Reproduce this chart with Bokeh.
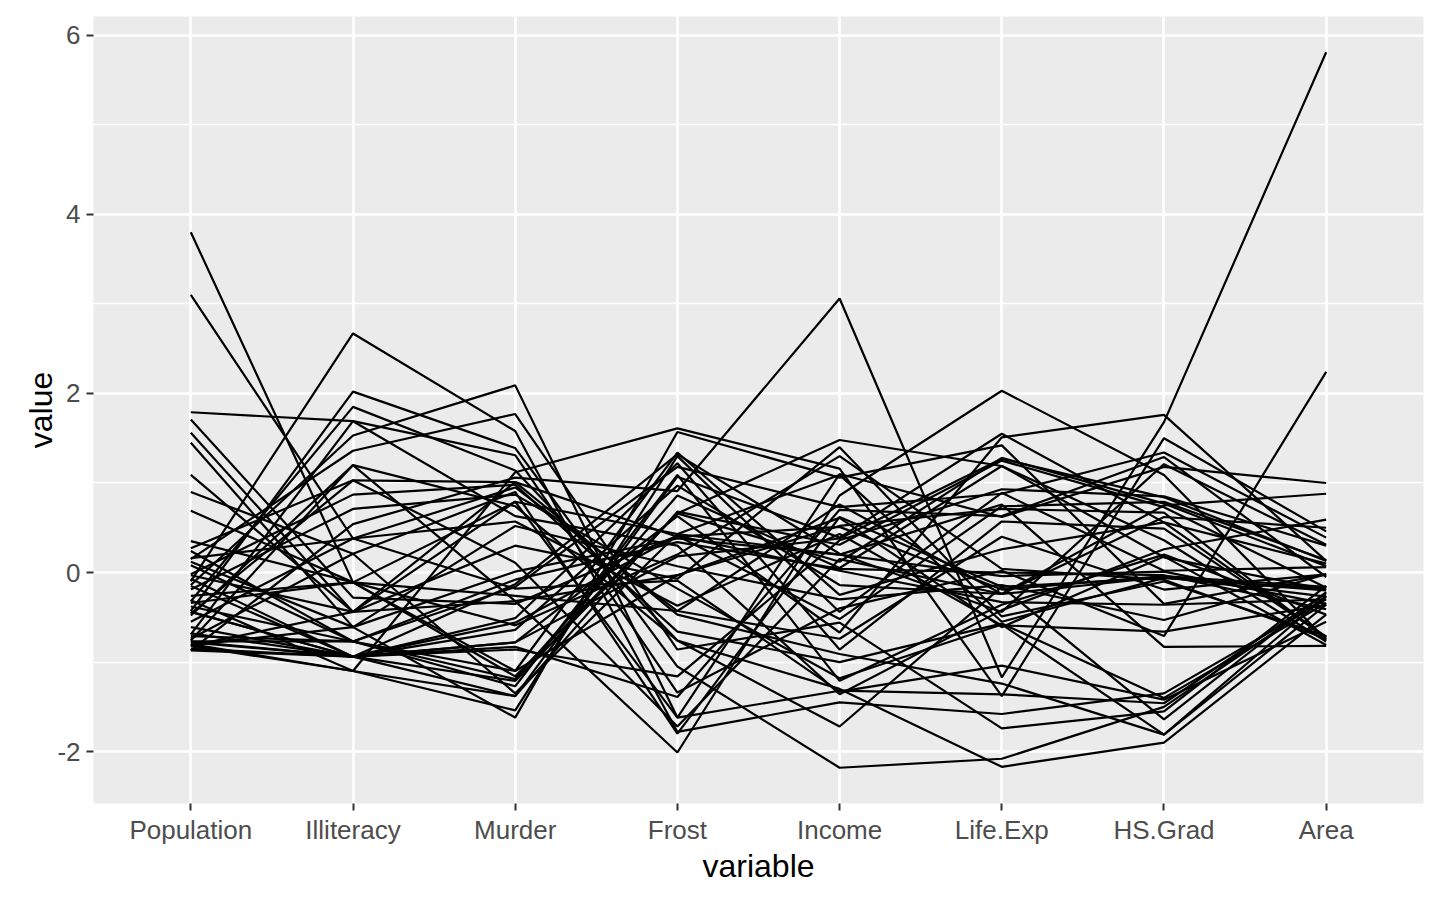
from bokeh.plotting import figure
from bokeh.models import ColumnDataSource, Range1d, FixedTicker, Label
from bokeh.embed import file_html
from bokeh.resources import INLINE

# Standardised (z-score) values of the state.x77 variables, one entry per state
variables = ["Population", "Illiteracy", "Murder", "Frost", "Income", "Life.Exp", "HS.Grad", "Area"]

states = ["Alabama", "Alaska", "Arizona", "Arkansas", "California", "Colorado", "Connecticut",
          "Delaware", "Florida", "Georgia", "Hawaii", "Idaho", "Illinois", "Indiana", "Iowa",
          "Kansas", "Kentucky", "Louisiana", "Maine", "Maryland", "Massachusetts", "Michigan",
          "Minnesota", "Mississippi", "Missouri", "Montana", "Nebraska", "Nevada", "New Hampshire",
          "New Jersey", "New Mexico", "New York", "North Carolina", "North Dakota", "Ohio",
          "Oklahoma", "Oregon", "Pennsylvania", "Rhode Island", "South Carolina", "South Dakota",
          "Tennessee", "Texas", "Utah", "Vermont", "Virginia", "Washington", "West Virginia",
          "Wisconsin", "Wyoming"]

population = [-0.14, -0.87, -0.46, -0.48, 3.80, -0.38, -0.26, -0.82, 0.90, 0.15,
              -0.76, -0.77, 1.56, 0.24, -0.31, -0.44, -0.19, -0.10, -0.71, -0.03,
              0.35, 1.09, -0.07, -0.43, 0.12, -0.78, -0.61, -0.82, -0.77, 0.69,
              -0.69, 3.10, 0.27, -0.81, 1.45, -0.34, -0.44, 1.71, -0.74, -0.32,
              -0.80, -0.02, 1.79, -0.68, -0.85, 0.16, -0.15, -0.55, 0.08, -0.87]

illiteracy = [1.53, 0.54, 1.03, 1.20, -0.11, -0.77, -0.11, -0.44, 0.21, 1.36,
              1.20, -0.94, -0.44, -0.77, -1.10, -0.94, 0.71, 2.67, -0.77, -0.44,
              -0.11, -0.44, -0.94, 2.02, -0.61, -0.94, -0.94, -1.10, -0.77, -0.11,
              1.69, 0.38, 1.03, -0.61, -0.61, -0.11, -0.94, -0.28, 0.21, 1.85,
              -1.10, 0.87, 1.69, -0.94, -0.94, 0.38, -0.94, 0.38, -0.77, -0.94]

murder = [2.09, 1.06, 0.11, 0.74, 0.79, -0.16, -1.16, -0.32, 0.90, 1.77,
          -0.32, -0.56, 0.79, -0.08, -1.38, -0.78, 0.87, 1.58, -1.27, 0.30,
          -1.10, 1.01, -1.38, 1.39, 0.52, -0.64, -1.21, 1.12, -1.10, -0.59,
          0.63, 0.95, 1.01, -1.62, 0.01, -0.26, -0.86, -0.35, -1.35, 1.14,
          -1.54, 0.98, 1.31, -0.78, -0.51, 0.57, -0.83, -0.18, -1.19, -0.13]

frost = [-1.62, 0.91, -1.72, -0.76, -1.62, 1.18, 0.66, -0.03, -1.80, -0.86,
         -2.01, 0.41, 0.43, 0.34, 0.68, 0.18, -0.18, -1.78, 1.09, -0.07,
         -0.03, 0.40, 1.07, -1.05, 0.07, 0.97, 0.66, 1.61, 1.34, 0.20,
         0.30, -0.43, -0.47, 1.57, 0.38, -0.43, -1.16, 0.41, 0.43, -0.76,
         1.30, -0.66, -1.34, 0.63, 1.22, -0.37, -1.39, -0.09, 0.86, 1.32]

income = [-1.32, 3.06, 0.15, -1.72, 1.10, 0.73, 1.48, 0.61, 0.62, -0.56,
          0.86, -0.52, 1.09, 0.04, 0.31, 0.38, -1.18, -1.45, -1.21, 1.40,
          0.52, 0.51, 0.39, -2.18, -0.30, -0.14, 0.12, 1.16, -0.25, 1.30,
          -1.36, 0.76, -0.91, 1.06, 0.20, -0.74, 0.36, 0.02, 0.20, -1.30,
          -0.44, -1.00, -0.40, -0.67, -0.86, 0.43, 0.70, -1.33, 0.05, 0.21]

life_exp = [-1.36, -1.17, -0.24, -0.16, 0.62, 0.88, 1.19, -0.61, -0.16, -1.74,
            2.03, 0.74, -0.55, 0.00, 1.25, 1.27, -0.58, -1.58, -0.36, -0.49,
            0.71, -0.19, 1.55, -2.08, -0.14, -0.24, 1.28, -1.38, 0.26, 0.04,
            -0.42, -0.24, -1.24, 1.42, -0.04, 0.40, 0.93, -0.33, 0.76, -2.17,
            0.89, -0.57, 0.02, 1.51, 0.57, -0.59, 0.63, -1.04, 1.19, -0.44]

hs_grad = [-1.46, 1.68, 0.62, -1.64, 1.18, 1.34, 0.36, 0.18, -0.06, -1.55,
           1.09, 0.79, -0.06, -0.03, 0.73, 0.84, -1.81, -1.35, 0.20, -0.10,
           0.67, -0.04, 0.56, -1.50, -0.53, 0.75, 0.77, 1.50, 0.56, -0.08,
           0.26, -0.05, -1.81, -0.35, 0.01, -0.19, 0.85, -0.36, -0.83, -1.90,
           0.02, -1.40, -0.71, 1.76, 0.49, -0.66, 1.29, -1.42, 0.17, 1.21]

area = [-0.23, 5.81, 0.50, -0.22, 1.00, 0.39, -0.77, -0.81, -0.20, -0.15,
        -0.75, 0.14, -0.18, -0.41, -0.17, 0.13, -0.36, -0.30, -0.47, -0.71,
        -0.74, -0.16, 0.10, -0.27, -0.02, 0.88, 0.07, 0.46, -0.72, -0.74,
        0.59, -0.27, -0.26, -0.02, -0.35, -0.02, 0.30, -0.30, -0.82, -0.47,
        0.06, -0.34, 2.24, 0.13, -0.72, -0.36, -0.05, -0.55, -0.19, 0.31]

y_ticks = [-2, 0, 2, 4, 6]
y_minor = [-1, 1, 3, 5]

columns = [population, illiteracy, murder, frost, income, life_exp, hs_grad, area]
positions = list(range(len(variables)))
xs = [positions for _ in states]
ys = [[col[i] for col in columns] for i in range(len(states))]
source = ColumnDataSource(data=dict(xs=xs, ys=ys, state=states))

all_vals = [v for col in columns for v in col]
lo, hi = min(all_vals), max(all_vals)
pad = 0.05 * (hi - lo)

FONT = "Liberation Sans"

p = figure(width=1432, height=891, output_backend="svg", toolbar_location=None,
           x_range=Range1d(-0.6, len(variables) - 1 + 0.6),
           y_range=Range1d(lo - pad, hi + pad),
           min_border_left=93, min_border_right=9, min_border_top=16, min_border_bottom=88)

p.multi_line(xs="xs", ys="ys", source=source, line_color="black", line_width=2.2)

p.background_fill_color = "#EBEBEB"
p.border_fill_color = "white"
p.outline_line_color = None

p.xaxis.ticker = FixedTicker(ticks=positions)
p.xaxis.major_label_overrides = {i: v for i, v in enumerate(variables)}
p.yaxis.ticker = FixedTicker(ticks=y_ticks, minor_ticks=y_minor)
p.yaxis.major_label_overrides = {t: str(t) for t in y_ticks}

for ax in (p.xaxis[0], p.yaxis[0]):
    ax.axis_line_color = None
    ax.major_tick_line_color = "#333333"
    ax.major_tick_line_width = 2
    ax.major_tick_in = 0
    ax.major_tick_out = 7
    ax.minor_tick_line_color = None
    ax.major_label_text_font = FONT
    ax.major_label_text_font_size = "26px"
    ax.major_label_text_color = "#4D4D4D"
    ax.axis_label_text_font = FONT
    ax.axis_label_text_font_size = "32px"
    ax.axis_label_text_font_style = "normal"
    ax.axis_label_text_color = "black"

p.xaxis.major_label_standoff = 4
p.yaxis.major_label_standoff = 6
p.xaxis.axis_label = "variable"
p.yaxis.axis_label = "value"
p.xaxis.axis_label_standoff = 0
p.yaxis.axis_label_standoff = -5

p.xgrid.grid_line_color = "white"
p.xgrid.grid_line_width = 2.6
p.ygrid.grid_line_color = "white"
p.ygrid.grid_line_width = 2.6
p.ygrid.minor_grid_line_color = "white"
p.ygrid.minor_grid_line_width = 1.3

wm = Label(x=len(variables) - 1 + 0.629, y=lo - pad - 0.855,
           text="https://blog.csdn.net/LAJIANGJIADEXIANGYE",
           text_font=FONT, text_font_size="16px", text_color="#E6E6E6",
           text_align="right", text_baseline="middle")
p.add_layout(wm)

open("out.html", "w").write(file_html(p, INLINE))
